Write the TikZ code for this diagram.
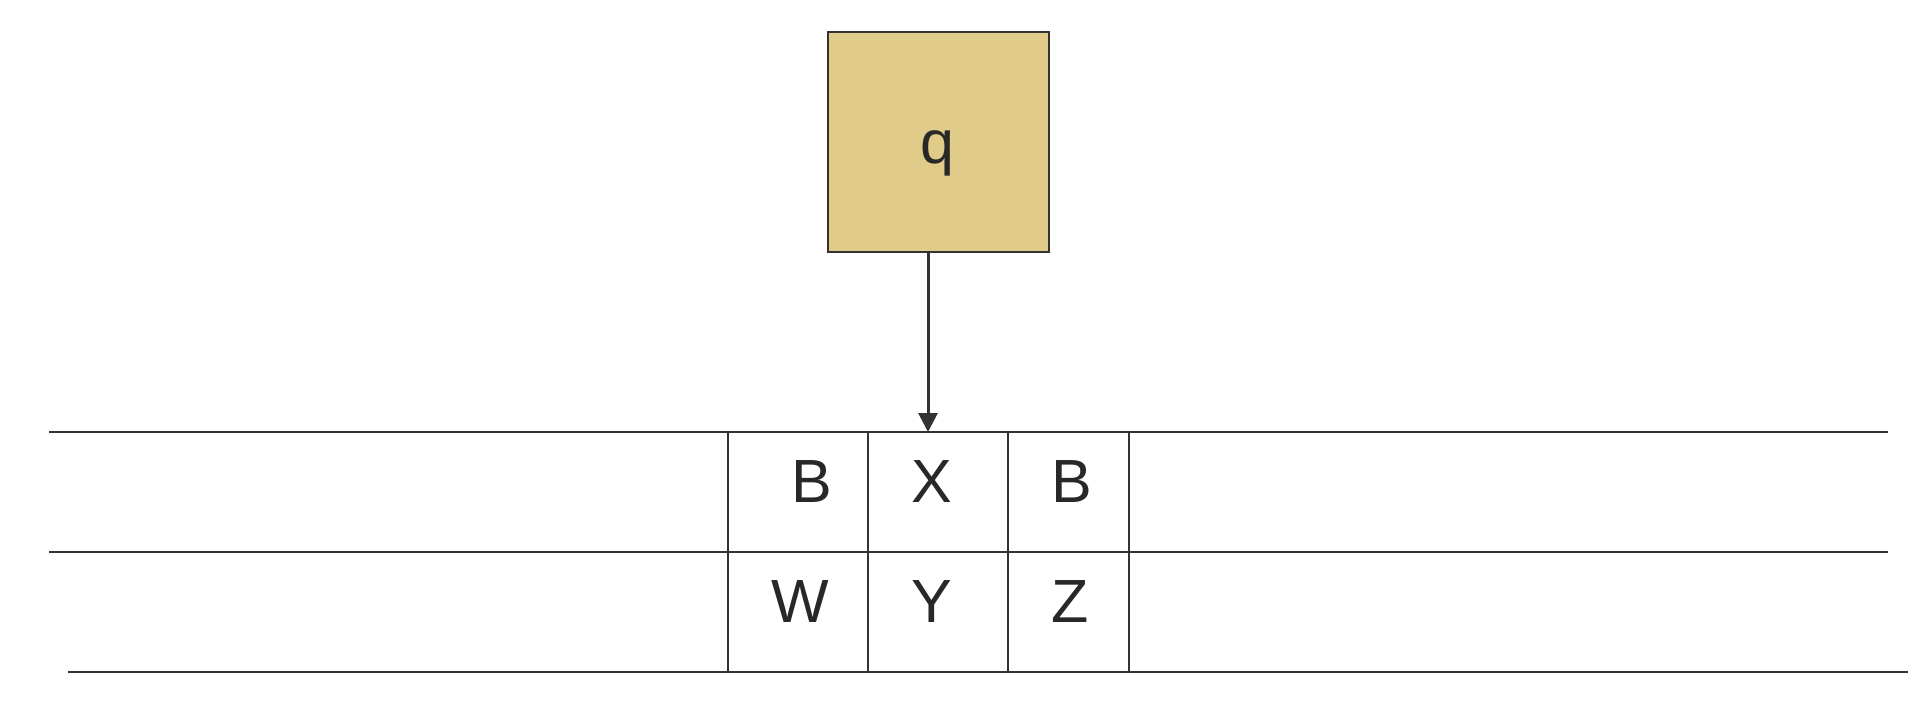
\documentclass[tikz,border=0pt]{standalone}
\usepackage{fontspec}
\setmainfont{Liberation Sans}
\usepackage{xcolor}
\usetikzlibrary{arrows.meta,positioning}

\definecolor{boxfill}{RGB}{224,204,136}
\definecolor{ink}{RGB}{51,51,51}
\definecolor{txt}{RGB}{40,40,40}

\begin{document}
\begin{tikzpicture}[x=1pt, y=-1pt, line width=1.8pt]

    \tikzstyle{symbol}=[inner sep=0pt, anchor=base, text=txt, font=\fontsize{61}{61}\selectfont]
    \tikzstyle{tape}=[draw=ink, line width=1.8pt]

    \useasboundingbox (0,0) rectangle (1930,704);

    % head state
    \node[draw=ink, fill=boxfill, line width=2pt, minimum width=221pt, minimum height=220pt, inner sep=0pt] (head) at (938.5,142) {};
    \node[symbol] (state) at (937,163) {q};

    % tape rows
    \draw[tape] (49,432) -- (1888,432);
    \draw[tape] (49,552) -- (1888,552);
    \draw[tape] (68,672) -- (1908,672);
    \foreach \x in {728,868,1008,1129}
        \draw[tape] (\x,432) -- (\x,672);

    \node[symbol] (B1) at (812,502) {B};
    \node[symbol] (X)  at (932,502) {X};
    \node[symbol] (B2) at (1072,502) {B};
    \node[symbol] (W)  at (800,622) {W};
    \node[symbol] (Y)  at (932,622) {Y};
    \node[symbol] (Z)  at (1070,622) {Z};

    \coordinate (cursor) at (928,432);
    \draw[ink, line width=3pt, -{Triangle[width=19pt,length=19pt]}] (head.south -| cursor) -- (cursor);

\end{tikzpicture}
\end{document}
